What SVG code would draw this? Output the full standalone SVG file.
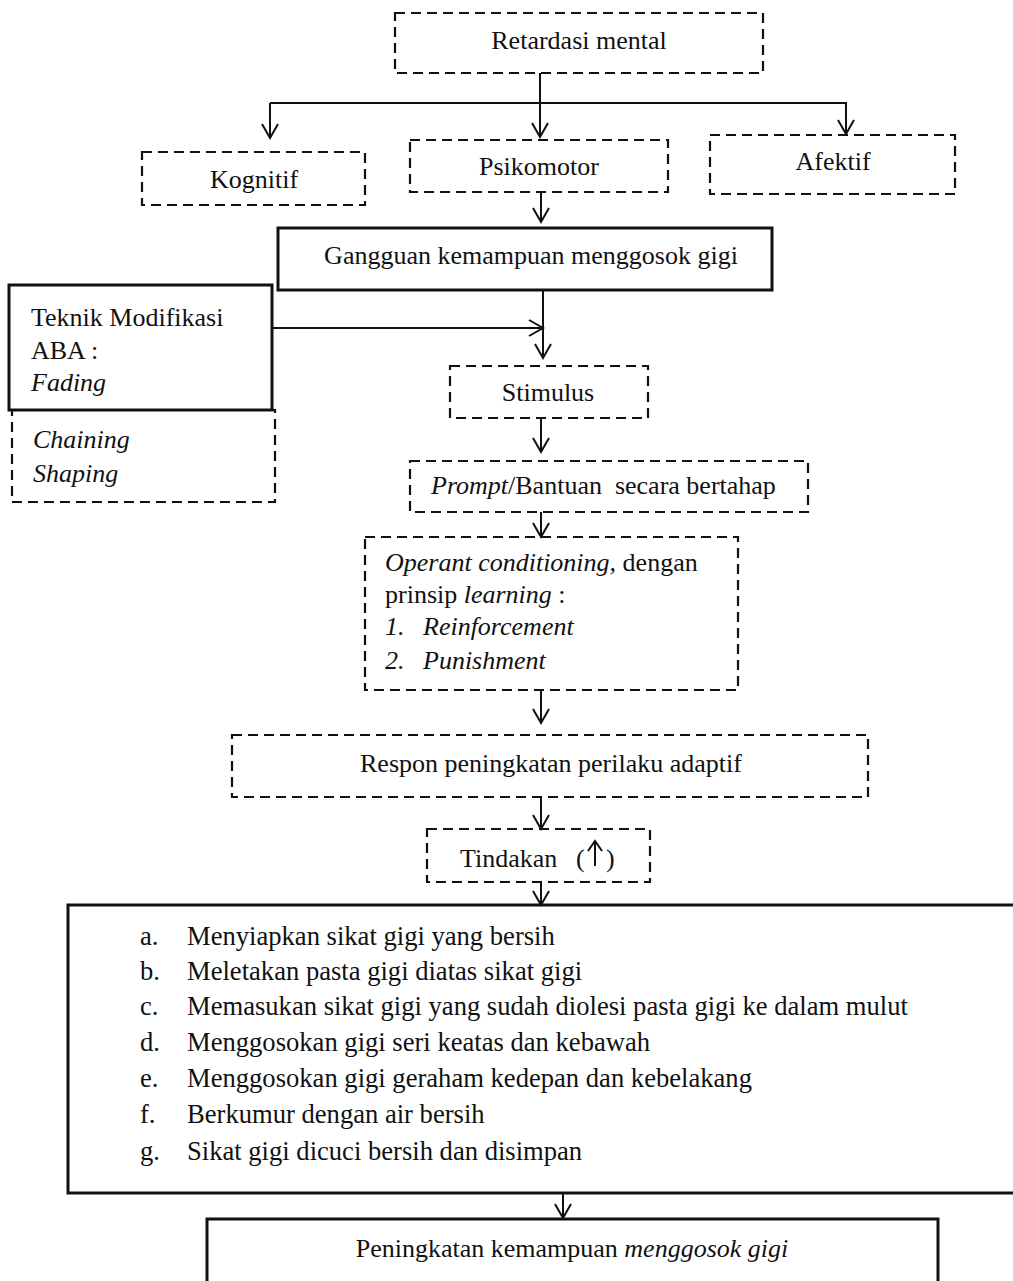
<svg xmlns="http://www.w3.org/2000/svg" width="1013" height="1281" viewBox="0 0 1013 1281">
<defs>
<style>
text{font-family:"Liberation Serif","Times New Roman",serif;font-size:26px;fill:#111;white-space:pre}
.i{font-style:italic}
.c{text-anchor:middle}
.li{font-size:26.6px}
.d{fill:none;stroke:#111;stroke-width:2.2;stroke-dasharray:10 6}
.s{fill:none;stroke:#111;stroke-width:3}
.l{fill:none;stroke:#111;stroke-width:2}
</style>
<marker id="ah" viewBox="0 0 20 20" refX="18" refY="10" markerWidth="20" markerHeight="20" markerUnits="userSpaceOnUse" orient="auto">
<path d="M4,2 L18,10 L4,18" fill="none" stroke="#111" stroke-width="2"/>
</marker>
</defs>
<rect width="1013" height="1281" fill="#fff"/>
<g id="connectors">
<path class="l" d="M540,73 V137" marker-end="url(#ah)"/>
<path class="l" d="M270,103 H847"/>
<path class="l" d="M270,103 V138" marker-end="url(#ah)"/>
<path class="l" d="M846,103 V134" marker-end="url(#ah)"/>
<path class="l" d="M541,192 V222" marker-end="url(#ah)"/>
<path class="l" d="M543,290 V358" marker-end="url(#ah)"/>
<path class="l" d="M272,328 H543" marker-end="url(#ah)"/>
<path class="l" d="M541,418 V452" marker-end="url(#ah)"/>
<path class="l" d="M541,512 V537" marker-end="url(#ah)"/>
<path class="l" d="M541,690 V723" marker-end="url(#ah)"/>
<path class="l" d="M541,797 V829" marker-end="url(#ah)"/>
<path class="l" d="M541,882 V905" marker-end="url(#ah)"/>
<path class="l" d="M563,1193 V1218" marker-end="url(#ah)"/>
</g>
<g id="retardasi">
<rect class="d" x="395" y="13" width="368" height="60"/>
<text class="c" x="579" y="49">Retardasi mental</text>
</g>
<g id="kognitif">
<rect class="d" x="142" y="152" width="223" height="53"/>
<text class="c" x="254" y="188">Kognitif</text>
</g>
<g id="psikomotor">
<rect class="d" x="410" y="140" width="258" height="52"/>
<text class="c" x="539" y="175">Psikomotor</text>
</g>
<g id="afektif">
<rect class="d" x="710" y="135" width="245" height="59"/>
<text class="c" x="833" y="170">Afektif</text>
</g>
<g id="gangguan">
<rect class="s" x="278" y="228" width="494" height="62"/>
<text class="c" x="531" y="264">Gangguan kemampuan menggosok gigi</text>
</g>
<g id="teknik">
<rect class="d" x="12" y="410" width="263" height="92"/>
<rect class="s" x="9" y="285" width="263" height="125"/>
<text x="31" y="326">Teknik Modifikasi</text>
<text x="31" y="359">ABA :</text>
<text class="i" x="31" y="391">Fading</text>
<text class="i" x="33" y="448">Chaining</text>
<text class="i" x="33" y="482">Shaping</text>
</g>
<g id="stimulus">
<rect class="d" x="450" y="366" width="198" height="52"/>
<text class="c" x="548" y="401">Stimulus</text>
</g>
<g id="prompt">
<rect class="d" x="410" y="461" width="398" height="51"/>
<text x="431" y="494"><tspan class="i">Prompt</tspan>/Bantuan  secara bertahap</text>
</g>
<g id="operant">
<rect class="d" x="365" y="537" width="373" height="153"/>
<text x="385" y="571"><tspan class="i">Operant conditioning,</tspan> dengan</text>
<text x="385" y="603">prinsip <tspan class="i">learning</tspan> :</text>
<text class="i" x="385" y="635">1.</text>
<text class="i" x="423" y="635">Reinforcement</text>
<text class="i" x="385" y="669">2.</text>
<text class="i" x="423" y="669">Punishment</text>
</g>
<g id="respon">
<rect class="d" x="232" y="735" width="636" height="62"/>
<text class="c" x="551" y="772">Respon peningkatan perilaku adaptif</text>
</g>
<g id="tindakan">
<rect class="d" x="427" y="829" width="223" height="53"/>
<text x="460" y="867">Tindakan</text>
<text x="576" y="867">(</text>
<text x="606" y="867">)</text>
<path class="l" d="M595,866 V842 M588,851 L595,841 L602,851"/>
</g>
<g id="langkah">
<rect class="s" x="68" y="905" width="960" height="288"/>
<text class="li" x="140" y="945">a.</text><text class="li" x="187" y="945">Menyiapkan sikat gigi yang bersih</text>
<text class="li" x="140" y="980">b.</text><text class="li" x="187" y="980">Meletakan pasta gigi diatas sikat gigi</text>
<text class="li" x="140" y="1015">c.</text><text class="li" x="187" y="1015">Memasukan sikat gigi yang sudah diolesi pasta gigi ke dalam mulut</text>
<text class="li" x="140" y="1051">d.</text><text class="li" x="187" y="1051">Menggosokan gigi seri keatas dan kebawah</text>
<text class="li" x="140" y="1087">e.</text><text class="li" x="187" y="1087">Menggosokan gigi geraham kedepan dan kebelakang</text>
<text class="li" x="140" y="1123">f.</text><text class="li" x="187" y="1123">Berkumur dengan air bersih</text>
<text class="li" x="140" y="1160">g.</text><text class="li" x="187" y="1160">Sikat gigi dicuci bersih dan disimpan</text>
</g>
<g id="peningkatan">
<rect class="s" x="207" y="1219" width="731" height="80"/>
<text class="c" x="572" y="1257">Peningkatan kemampuan <tspan class="i">menggosok gigi</tspan></text>
</g>
</svg>
